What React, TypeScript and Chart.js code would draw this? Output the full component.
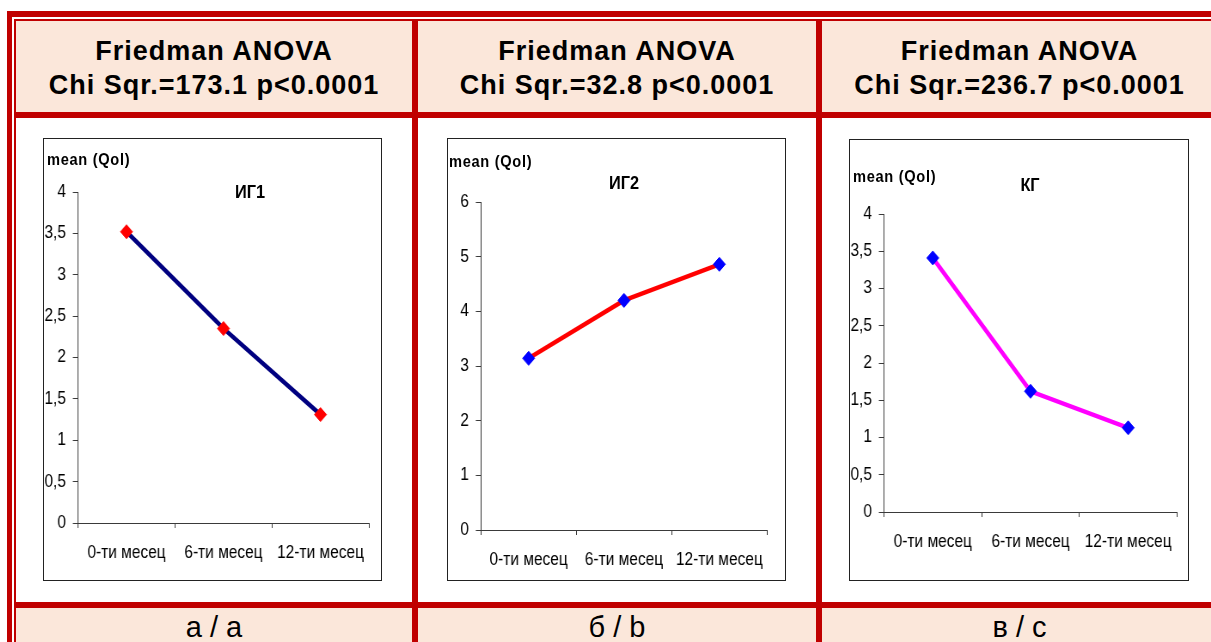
import React, { useEffect, useRef } from "react";
import { Chart, registerables } from "chart.js";

Chart.register(...registerables);

// ---------- data ----------
const categories = ["0-ти месец", "6-ти месец", "12-ти месец"];
const ig1Values = [3.52, 2.35, 1.31];
const ig2Values = [3.14, 4.2, 4.86];
const kgValues = [3.41, 1.62, 1.13];

const headerTitle = "Friedman ANOVA";
const chiSqrValues = ["173.1", "32.8", "236.7"];
const pValueText = "p<0.0001";
const footerLabels = ["а / a", "б / b", "в / c"];
const chartTitles = ["ИГ1", "ИГ2", "КГ"];
const yAxisTitle = "mean (Qol)";
const yMaxValues = [4, 6, 4];
const yStepValues = [0.5, 1, 0.5];

// ---------- styles ----------
const RED = "#C00000";
const CELL_BG = "#FBE7DA";
const AXIS = "#3a3a3a";
const SANS = '"Liberation Sans", Arial, sans-serif';
// horizontal compression to emulate a narrow (Arial Narrow like) face
const K = 0.86;

type Geo = { x: number; y: number; w: number; h: number; left: number; right: number; top: number; bottom: number };

function LineChart(props: {
  values: number[];
  max: number;
  step: number;
  lineColor: string;
  pointColor: string;
  geo: Geo;
}) {
  const ref = useRef<HTMLCanvasElement | null>(null);
  const { values, max, step, lineColor, pointColor, geo } = props;
  const logicalW = Math.round(geo.w / K);
  useEffect(() => {
    if (!ref.current) return;
    const chart = new Chart(ref.current, {
      type: "line",
      data: {
        labels: categories,
        datasets: [
          {
            data: values,
            borderColor: lineColor,
            borderWidth: 4.5,
            tension: 0,
            fill: false,
            pointStyle: "rectRot",
            pointRadius: 7,
            pointBackgroundColor: pointColor,
            pointBorderColor: pointColor,
            pointBorderWidth: 1,
          },
        ],
      },
      options: {
        responsive: false,
        maintainAspectRatio: false,
        animation: false,
        devicePixelRatio: 1,
        layout: { padding: { left: 0, top: geo.top, right: (geo.w - geo.right) / K, bottom: 0 } },
        plugins: { legend: { display: false }, tooltip: { enabled: false }, title: { display: false } },
        scales: {
          x: {
            type: "category",
            offset: true,
            grid: { offset: true, drawOnChartArea: false, drawTicks: true, tickLength: 5, color: AXIS, lineWidth: 1 },
            border: { display: true, color: AXIS, width: 1 },
            ticks: { color: "#000", font: { family: SANS, size: 18 }, padding: 14, maxRotation: 0, autoSkip: false },
            afterFit: (s: any) => {
              s.height = geo.h - geo.bottom;
            },
          },
          y: {
            min: 0,
            max: max,
            grid: { drawOnChartArea: false, drawTicks: true, tickLength: 6, color: AXIS, lineWidth: 1 },
            border: { display: true, color: AXIS, width: 1 },
            ticks: {
              stepSize: step,
              color: "#000",
              font: { family: SANS, size: 18 },
              padding: 8,
              callback: (v: any) => String(v).replace(".", ","),
            },
            afterFit: (s: any) => {
              s.width = geo.left / K;
            },
          },
        },
      },
    });
    return () => chart.destroy();
  }, []);
  return (
    <canvas
      ref={ref}
      width={logicalW}
      height={geo.h}
      style={{ position: "absolute", left: geo.x, top: geo.y, width: geo.w, height: geo.h }}
    />
  );
}

function Rect(p: { x: number; y: number; w: number; h: number; c: string }) {
  return <div style={{ position: "absolute", left: p.x, top: p.y, width: p.w, height: p.h, background: p.c }} />;
}

function NarrowText(p: { x: number; y: number; text: string; size: number; lh: number; center?: boolean; spacing?: number }) {
  return (
    <div
      style={{
        position: "absolute",
        left: p.x,
        top: p.y - p.lh / 2,
        lineHeight: p.lh + "px",
        whiteSpace: "nowrap",
        color: "#000",
        fontFamily: SANS,
        fontWeight: "bold",
        fontSize: p.size,
        letterSpacing: p.spacing || 0,
        transform: p.center ? `translateX(-50%) scaleX(${K})` : `scaleX(${K})`,
        transformOrigin: p.center ? "50% 50%" : "0 50%",
      }}
    >
      {p.text}
    </div>
  );
}

const boxes = [
  { x: 43, y: 138, w: 339, h: 443 },
  { x: 447, y: 138, w: 339, h: 443 },
  { x: 849, y: 139, w: 340, h: 442 },
];

const geos: Geo[] = [
  { x: 44, y: 139, w: 336, h: 440, left: 34, right: 325, top: 53, bottom: 384 },
  { x: 448, y: 139, w: 336, h: 440, left: 33, right: 319, top: 63, bottom: 391 },
  { x: 850, y: 140, w: 337, h: 439, left: 34, right: 327, top: 74, bottom: 372 },
];

const colCenters = [214, 617, 1019.5];
const yTitlePos = [
  { x: 47, y: 160 },
  { x: 449, y: 162 },
  { x: 853, y: 177 },
];
const titlePos = [
  { x: 250, y: 192 },
  { x: 624, y: 183 },
  { x: 1030, y: 185 },
];

export default function App() {
  const seriesList = [ig1Values, ig2Values, kgValues];
  const lineColors = ["#000080", "#FF0000", "#FF00FF"];
  const pointColors = ["#FF0000", "#0000FF", "#0000FF"];
  return (
    <div style={{ position: "absolute", left: 0, top: 0, width: 1211, height: 642, overflow: "hidden", background: "#fff" }}>
      {/* header and footer backgrounds */}
      <Rect x={16} y={21} w={1200} h={91} c={CELL_BG} />
      <Rect x={16} y={608} w={1200} h={40} c={CELL_BG} />
      {/* outer double frame */}
      <Rect x={7} y={11} w={1210} h={6} c={RED} />
      <Rect x={7} y={11} w={5} h={640} c={RED} />
      <Rect x={14} y={19} w={1200} h={2} c={RED} />
      <Rect x={14} y={19} w={2} h={640} c={RED} />
      {/* row separators */}
      <Rect x={14} y={112} w={1200} h={6} c={RED} />
      <Rect x={14} y={602} w={1200} h={6} c={RED} />
      {/* column separators */}
      <Rect x={412} y={19} w={6} h={640} c={RED} />
      <Rect x={816} y={19} w={6} h={640} c={RED} />

      {colCenters.map((cx, i) => (
        <div
          key={"h" + i}
          style={{
            position: "absolute",
            left: cx - 200,
            width: 400,
            top: 34,
            textAlign: "center",
            fontFamily: SANS,
            fontWeight: "bold",
            fontSize: 27,
            letterSpacing: 1,
            lineHeight: "34px",
            color: "#000",
            whiteSpace: "nowrap",
          }}
        >
          <div>{headerTitle}</div>
          <div>{"Chi Sqr.=" + chiSqrValues[i] + " " + pValueText}</div>
        </div>
      ))}

      {colCenters.map((cx, i) => (
        <div
          key={"f" + i}
          style={{
            position: "absolute",
            left: cx - 200,
            width: 400,
            top: 610,
            textAlign: "center",
            fontFamily: SANS,
            fontSize: 29,
            lineHeight: "34px",
            color: "#000",
            whiteSpace: "nowrap",
          }}
        >
          {footerLabels[i]}
        </div>
      ))}

      {boxes.map((b, i) => (
        <div
          key={"b" + i}
          style={{
            position: "absolute",
            left: b.x,
            top: b.y,
            width: b.w,
            height: b.h,
            boxSizing: "border-box",
            border: "1px solid #222",
            background: "#fff",
          }}
        />
      ))}

      {geos.map((g, i) => (
        <LineChart
          key={"c" + i}
          values={seriesList[i]}
          max={yMaxValues[i]}
          step={yStepValues[i]}
          lineColor={lineColors[i]}
          pointColor={pointColors[i]}
          geo={g}
        />
      ))}

      {yTitlePos.map((p, i) => (
        <NarrowText key={"yt" + i} x={p.x} y={p.y} lh={20} size={17} spacing={0.8} text={yAxisTitle} />
      ))}
      {titlePos.map((p, i) => (
        <NarrowText key={"t" + i} x={p.x} y={p.y} lh={22} size={19} center text={chartTitles[i]} />
      ))}
    </div>
  );
}
